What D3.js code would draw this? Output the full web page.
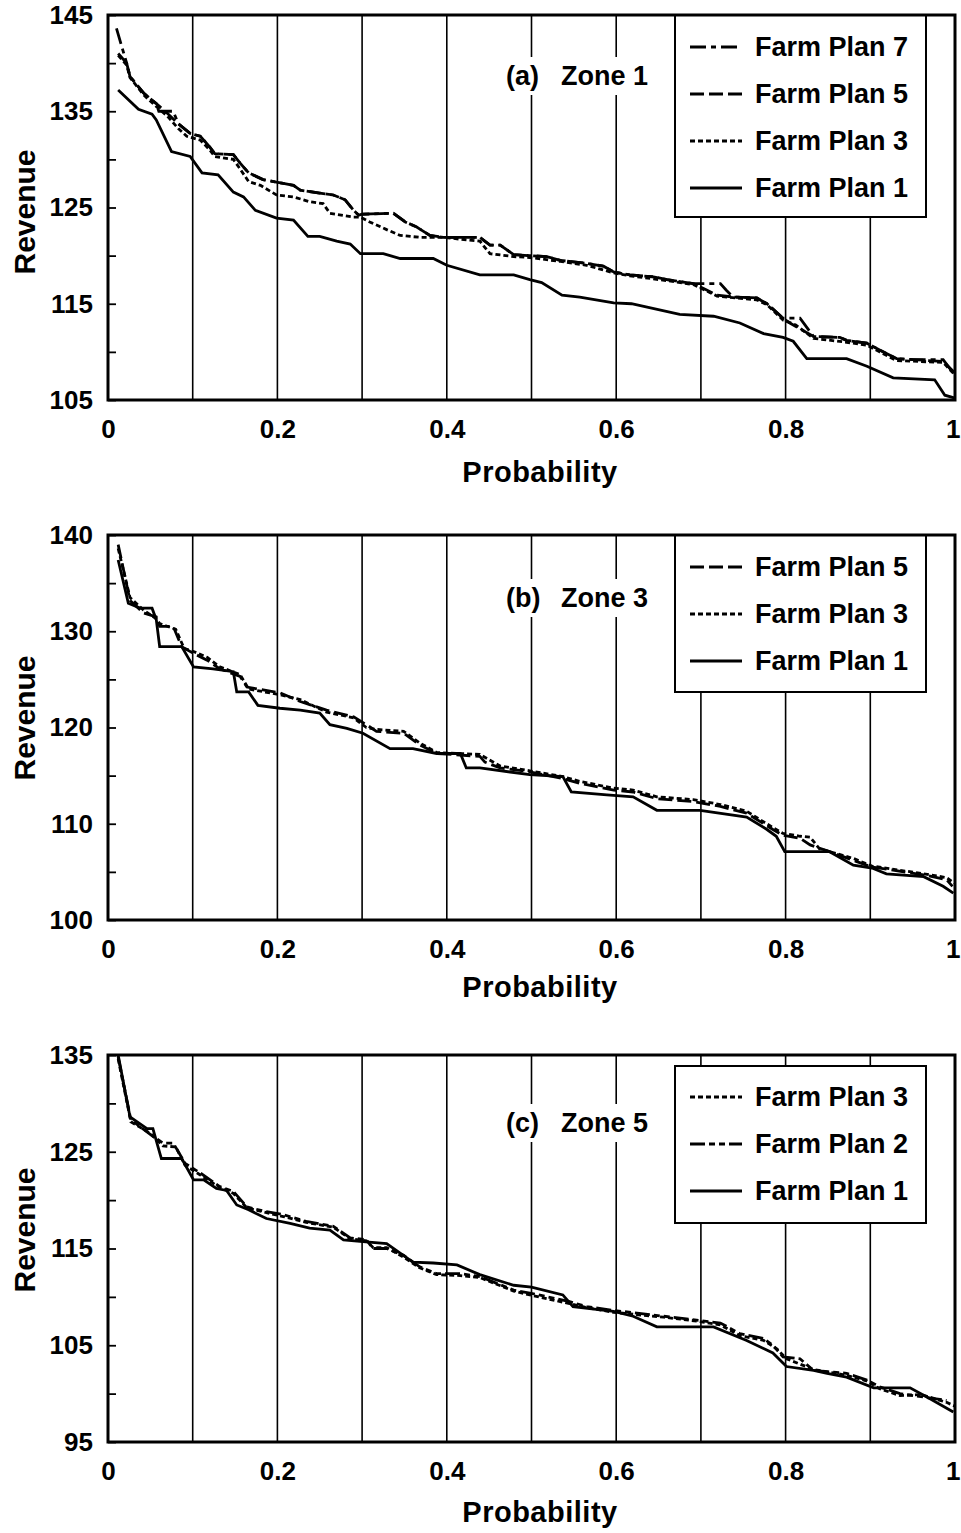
<!DOCTYPE html>
<html>
<head>
<meta charset="utf-8">
<script src="https://cdn.jsdelivr.net/npm/d3@7/dist/d3.min.js"></script>
<style>
body { margin:0; background:#fff; }
text { font-family:"Liberation Sans", Arial, sans-serif; font-weight:bold; fill:#000; }
</style>
</head>
<body>
<svg id="chart" width="961" height="1533"></svg>
<script>
// ---- data (probability, revenue) ----
var probTicks = [0, 0.2, 0.4, 0.6, 0.8, 1];

var zone1Labels = [105, 115, 125, 135, 145];
var zone3Labels = [100, 110, 120, 130, 140];
var zone5Labels = [95, 105, 115, 125, 135];

var zone1Plan1 = [[0.012,137.2],[0.036,135.2],[0.052,134.7],[0.057,134.1],[0.075,130.8],[0.097,130.3],[0.111,128.6],[0.130,128.4],[0.148,126.6],[0.160,126.1],[0.174,124.7],[0.199,123.9],[0.219,123.7],[0.236,122.0],[0.250,122.0],[0.270,121.5],[0.286,121.2],[0.298,120.2],[0.325,120.2],[0.345,119.7],[0.384,119.7],[0.400,119.0],[0.439,118.0],[0.479,118.0],[0.498,117.5],[0.512,117.2],[0.536,115.9],[0.557,115.7],[0.597,115.1],[0.618,115.0],[0.675,113.9],[0.715,113.7],[0.746,113.0],[0.774,111.9],[0.797,111.5],[0.809,111.1],[0.825,109.3],[0.872,109.3],[0.896,108.5],[0.927,107.3],[0.976,107.1],[0.988,105.5],[1.0,105.2]];
var zone1Plan3 = [[0.012,140.8],[0.022,139.8],[0.026,138.5],[0.042,136.7],[0.057,135.5],[0.070,134.5],[0.083,133.2],[0.093,132.4],[0.109,132.0],[0.120,131.0],[0.126,130.3],[0.148,130.0],[0.156,129.0],[0.166,127.7],[0.180,127.3],[0.199,126.3],[0.219,126.1],[0.238,125.6],[0.254,125.4],[0.262,124.4],[0.290,124.0],[0.298,124.0],[0.309,123.5],[0.329,122.7],[0.345,122.1],[0.368,121.9],[0.395,121.9],[0.439,121.5],[0.451,120.2],[0.479,119.9],[0.498,119.8],[0.534,119.4],[0.565,119.0],[0.597,118.2],[0.616,117.9],[0.660,117.4],[0.691,117.0],[0.705,116.4],[0.719,115.8],[0.766,115.4],[0.778,114.9],[0.797,113.3],[0.812,112.8],[0.833,111.4],[0.872,111.0],[0.896,110.7],[0.911,110.0],[0.931,109.1],[0.986,108.9],[1.0,107.6]];
var zone1Plan5 = [[0.012,141.0],[0.022,140.0],[0.026,138.6],[0.042,136.9],[0.057,135.8],[0.070,134.8],[0.083,133.7],[0.097,132.7],[0.109,132.4],[0.120,131.3],[0.126,130.6],[0.148,130.5],[0.156,129.6],[0.166,128.6],[0.183,127.9],[0.207,127.5],[0.219,127.3],[0.227,126.8],[0.250,126.5],[0.266,126.3],[0.280,125.8],[0.290,124.7],[0.296,124.2],[0.300,124.3],[0.337,124.4],[0.351,123.5],[0.364,123.0],[0.380,122.1],[0.396,121.9],[0.439,121.9],[0.451,121.1],[0.463,121.1],[0.479,120.1],[0.498,120.0],[0.518,119.9],[0.534,119.5],[0.565,119.2],[0.585,118.9],[0.597,118.3],[0.616,118.0],[0.644,117.8],[0.660,117.5],[0.691,117.1],[0.705,116.5],[0.719,115.9],[0.738,115.7],[0.766,115.6],[0.778,115.0],[0.797,113.5],[0.805,113.0],[0.833,111.6],[0.864,111.5],[0.872,111.2],[0.896,110.9],[0.911,110.2],[0.931,109.3],[0.951,109.2],[0.986,109.0],[1.0,107.8]];
var zone1Plan7 = [[0.010,143.6],[0.022,140.0],[0.026,138.6],[0.042,136.9],[0.057,135.8],[0.060,135.0],[0.077,135.0],[0.083,133.7],[0.097,132.7],[0.109,132.4],[0.120,131.3],[0.126,130.6],[0.148,130.5],[0.156,129.6],[0.166,128.6],[0.183,127.9],[0.207,127.5],[0.219,127.3],[0.227,126.8],[0.250,126.5],[0.266,126.3],[0.280,125.8],[0.290,124.7],[0.296,124.2],[0.300,124.3],[0.337,124.4],[0.351,123.5],[0.364,123.0],[0.380,122.1],[0.396,121.9],[0.439,121.9],[0.451,121.1],[0.463,121.1],[0.479,120.1],[0.498,120.0],[0.518,119.9],[0.534,119.5],[0.565,119.2],[0.585,118.9],[0.597,118.3],[0.616,118.0],[0.644,117.8],[0.660,117.5],[0.691,117.1],[0.723,117.1],[0.730,116.4],[0.738,115.7],[0.766,115.6],[0.778,115.0],[0.797,113.5],[0.817,113.5],[0.833,111.6],[0.864,111.5],[0.872,111.2],[0.896,110.9],[0.911,110.2],[0.931,109.3],[0.951,109.2],[0.986,109.2],[0.998,107.8]];

var zone3Plan1 = [[0.012,137.4],[0.024,132.9],[0.038,132.4],[0.052,132.4],[0.057,131.2],[0.061,128.4],[0.087,128.4],[0.101,126.3],[0.124,126.1],[0.148,125.8],[0.152,123.7],[0.166,123.7],[0.177,122.3],[0.203,122.0],[0.227,121.8],[0.250,121.5],[0.262,120.3],[0.282,119.9],[0.301,119.4],[0.333,117.8],[0.360,117.8],[0.388,117.3],[0.416,117.3],[0.423,115.8],[0.439,115.8],[0.498,115.1],[0.537,114.9],[0.547,113.3],[0.589,113.0],[0.620,112.8],[0.648,111.4],[0.699,111.4],[0.754,110.7],[0.778,109.4],[0.789,108.7],[0.799,107.1],[0.852,107.1],[0.880,105.7],[0.902,105.4],[0.919,104.8],[0.963,104.5],[0.986,103.5],[0.998,102.8]];
var zone3Plan3 = [[0.012,138.6],[0.026,133.5],[0.042,132.2],[0.057,131.3],[0.061,130.8],[0.080,130.2],[0.090,128.2],[0.101,127.9],[0.117,127.3],[0.132,126.3],[0.156,125.5],[0.166,124.0],[0.203,123.4],[0.227,122.9],[0.258,121.6],[0.290,121.0],[0.305,120.0],[0.317,119.8],[0.349,119.6],[0.368,118.4],[0.388,117.4],[0.439,117.2],[0.463,116.0],[0.498,115.5],[0.537,114.9],[0.557,114.4],[0.597,113.7],[0.620,113.5],[0.648,112.8],[0.691,112.5],[0.723,112.0],[0.754,111.3],[0.785,109.6],[0.797,109.0],[0.817,108.7],[0.829,108.6],[0.840,107.4],[0.880,106.4],[0.902,105.6],[0.963,104.8],[0.990,104.4],[1.0,103.8]];
var zone3Plan5 = [[0.012,139.0],[0.026,133.2],[0.042,131.9],[0.057,131.5],[0.061,130.5],[0.077,130.5],[0.087,128.4],[0.101,127.7],[0.117,127.0],[0.132,126.1],[0.156,125.3],[0.164,124.2],[0.203,123.6],[0.227,122.7],[0.258,121.8],[0.290,121.1],[0.305,120.3],[0.317,119.6],[0.349,119.4],[0.368,118.2],[0.388,117.3],[0.439,117.0],[0.445,116.4],[0.463,115.8],[0.498,115.4],[0.537,114.7],[0.557,114.2],[0.597,113.5],[0.620,113.3],[0.648,112.6],[0.691,112.3],[0.723,111.8],[0.754,111.1],[0.785,109.4],[0.797,108.8],[0.817,108.5],[0.829,107.8],[0.852,107.1],[0.880,106.2],[0.902,105.5],[0.963,104.7],[0.990,104.2],[0.997,103.5]];

var zone5Plan1 = [[0.012,135.0],[0.026,128.6],[0.046,127.4],[0.053,127.4],[0.063,124.3],[0.087,124.3],[0.101,122.1],[0.113,122.1],[0.128,121.2],[0.140,121.0],[0.152,119.5],[0.166,119.0],[0.187,118.1],[0.215,117.6],[0.238,117.1],[0.262,116.9],[0.278,115.9],[0.301,115.7],[0.329,115.5],[0.360,113.6],[0.384,113.5],[0.412,113.3],[0.439,112.3],[0.479,111.2],[0.500,111.0],[0.537,110.2],[0.549,109.0],[0.597,108.5],[0.620,108.0],[0.648,106.9],[0.715,106.9],[0.754,105.5],[0.785,104.2],[0.801,102.8],[0.833,102.4],[0.849,102.1],[0.872,101.7],[0.904,100.6],[0.947,100.6],[0.970,99.5],[0.998,98.1]];
var zone5Plan2 = [[0.012,134.8],[0.027,128.3],[0.053,126.6],[0.065,125.9],[0.077,125.9],[0.091,123.8],[0.109,122.8],[0.132,121.4],[0.148,120.9],[0.164,119.3],[0.187,118.8],[0.207,118.5],[0.234,117.8],[0.266,117.3],[0.286,116.1],[0.305,115.9],[0.313,115.0],[0.329,115.0],[0.349,114.3],[0.368,113.1],[0.388,112.4],[0.416,112.4],[0.439,112.1],[0.479,110.7],[0.498,110.4],[0.545,109.5],[0.565,109.0],[0.597,108.6],[0.656,108.0],[0.695,107.6],[0.723,107.3],[0.746,106.2],[0.774,105.7],[0.785,105.0],[0.797,103.8],[0.817,103.6],[0.833,102.4],[0.872,102.1],[0.896,101.4],[0.911,100.7],[0.935,100.0],[0.990,99.3]];
var zone5Plan3 = [[0.012,134.6],[0.027,128.1],[0.050,126.9],[0.065,125.6],[0.080,125.5],[0.091,123.6],[0.109,122.6],[0.132,121.3],[0.148,120.7],[0.164,119.2],[0.187,118.7],[0.207,118.3],[0.234,117.7],[0.266,117.2],[0.286,116.0],[0.305,115.8],[0.313,115.1],[0.329,115.1],[0.349,114.1],[0.368,113.0],[0.388,112.3],[0.416,112.2],[0.439,112.0],[0.479,110.6],[0.498,110.2],[0.545,109.3],[0.565,108.9],[0.597,108.4],[0.656,107.9],[0.695,107.5],[0.723,107.1],[0.746,106.0],[0.774,105.5],[0.790,104.6],[0.801,103.6],[0.833,102.5],[0.872,101.9],[0.896,101.3],[0.911,100.5],[0.935,99.8],[0.960,99.9],[0.990,99.1],[1.0,98.7]];

// ---- layout of the three panels ----
var dashes = { plan1: null, plan2: "15,4,6,4,6,4", plan3: "5,3", plan5: "14,5", plan7: "16,5,5,5" };

var panels = [
  { top: 15, bottom: 400, lo: 105, hi: 145, labels: zone1Labels, tag: "(a)", zone: "Zone 1", titleY: 85,
    revY: 212, probY: 482, legTop: 15, legBottom: 217, legY0: 47,
    series: [["Farm Plan 7", zone1Plan7, dashes.plan7], ["Farm Plan 5", zone1Plan5, dashes.plan5],
             ["Farm Plan 3", zone1Plan3, dashes.plan3], ["Farm Plan 1", zone1Plan1, dashes.plan1]] },
  { top: 535, bottom: 920, lo: 100, hi: 140, labels: zone3Labels, tag: "(b)", zone: "Zone 3", titleY: 607,
    revY: 718, probY: 997, legTop: 535, legBottom: 692, legY0: 567,
    series: [["Farm Plan 5", zone3Plan5, dashes.plan5], ["Farm Plan 3", zone3Plan3, dashes.plan3],
             ["Farm Plan 1", zone3Plan1, dashes.plan1]] },
  { top: 1055, bottom: 1442, lo: 95, hi: 135, labels: zone5Labels, tag: "(c)", zone: "Zone 5", titleY: 1132,
    revY: 1230, probY: 1522, legTop: 1066, legBottom: 1223, legY0: 1097,
    series: [["Farm Plan 3", zone5Plan3, dashes.plan3], ["Farm Plan 2", zone5Plan2, dashes.plan2],
             ["Farm Plan 1", zone5Plan1, dashes.plan1]] }
];

var svg = d3.select("#chart");
var x = d3.scaleLinear().domain([0, 1]).range([108, 955]);

panels.forEach(function(p) {
  var y = d3.scaleLinear().domain([p.lo, p.hi]).range([p.bottom, p.top]);
  var g = svg.append("g");

  // vertical grid every 0.1
  g.selectAll("line.grid").data(d3.range(1, 10).map(function(i){ return i / 10; }))
    .enter().append("line")
    .attr("x1", function(d){ return x(d); }).attr("x2", function(d){ return x(d); })
    .attr("y1", p.top).attr("y2", p.bottom)
    .attr("stroke", "#000").attr("stroke-width", 1.6);

  // y axis, ticks inward every 5
  var ya = g.append("g").attr("transform", "translate(108,0)")
    .call(d3.axisLeft(y).tickValues(d3.range(p.lo, p.hi + 1, 5)).tickSize(-8).tickPadding(15)
      .tickFormat(function(d){ return p.labels.indexOf(d) >= 0 ? d : ""; }));
  ya.select(".domain").remove();
  ya.selectAll("line").attr("stroke", "#000").attr("stroke-width", 1.8);
  ya.selectAll("text").attr("font-size", 26).style("font-family", "'Liberation Sans', Arial, sans-serif")
    .style("font-weight", "bold").attr("fill", "#000");

  // x axis labels
  var xa = g.append("g").attr("transform", "translate(0," + p.bottom + ")")
    .call(d3.axisBottom(x).tickValues(probTicks).tickSize(0).tickPadding(20).tickFormat(function(d){ return String(d); }));
  xa.select(".domain").remove();
  xa.selectAll("text").attr("font-size", 26).style("font-family", "'Liberation Sans', Arial, sans-serif")
    .style("font-weight", "bold").attr("fill", "#000");
  // last label sits against the page edge
  xa.selectAll("text").filter(function(d){ return d === 1; }).attr("text-anchor", "end").attr("x", 5);

  // series
  var line = d3.line().x(function(d){ return x(d[0]); }).y(function(d){ return y(d[1]); });
  p.series.forEach(function(s) {
    g.append("path").datum(s[1]).attr("d", line)
      .attr("fill", "none").attr("stroke", "#000").attr("stroke-width", 2.8)
      .attr("stroke-dasharray", s[2]);
  });

  // panel title with white backing
  var tg = g.append("g");
  var bg = tg.append("rect").attr("fill", "#fff");
  tg.append("text").attr("x", 506).attr("y", p.titleY).attr("font-size", 27).text(p.tag);
  tg.append("text").attr("x", 561).attr("y", p.titleY).attr("font-size", 27).text(p.zone);
  var bb = tg.node().getBBox();
  bg.attr("x", bb.x - 4).attr("y", bb.y - 4).attr("width", bb.width + 8).attr("height", bb.height + 8);

  // legend
  var lg = g.append("g");
  lg.append("rect").attr("x", 675).attr("y", p.legTop).attr("width", 251).attr("height", p.legBottom - p.legTop)
    .attr("fill", "#fff").attr("stroke", "#000").attr("stroke-width", 2);
  p.series.forEach(function(s, i) {
    var ly = p.legY0 + i * 47;
    lg.append("line").attr("x1", 690).attr("x2", 742).attr("y1", ly).attr("y2", ly)
      .attr("stroke", "#000").attr("stroke-width", 3).attr("stroke-dasharray", s[2]);
    lg.append("text").attr("x", 755).attr("y", ly + 9).attr("font-size", 27).text(s[0]);
  });

  // frame
  g.append("rect").attr("x", 108).attr("y", p.top).attr("width", 847).attr("height", p.bottom - p.top)
    .attr("fill", "none").attr("stroke", "#000").attr("stroke-width", 3);

  // axis titles
  g.append("text").attr("transform", "translate(35," + p.revY + ") rotate(-90)")
    .attr("text-anchor", "middle").attr("font-size", 30).text("Revenue");
  g.append("text").attr("x", 540).attr("y", p.probY).attr("text-anchor", "middle")
    .attr("font-size", 29).style("letter-spacing", "0.5px").text("Probability");
});
</script>
</body>
</html>
